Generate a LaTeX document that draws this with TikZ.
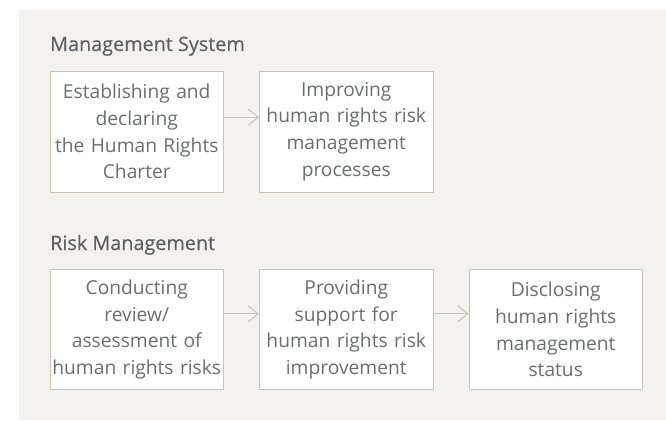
\documentclass[tikz,border=0pt]{standalone}
\usepackage{fontspec}
\setmainfont{Open Sans}
\newfontfamily\headfont{Open Sans}[FakeBold=0.35]
\usetikzlibrary{arrows.meta}
\definecolor{panelbg}{HTML}{F4F2EF}
\definecolor{boxline}{HTML}{CBC3B8}
\definecolor{boxtext}{HTML}{6C6E71}
\definecolor{headtext}{HTML}{5E6064}
\tikzset{
  x=1pt,y=-1pt,
  stepbox/.style={draw=boxline, line width=1pt, fill=white, minimum width=173.5pt, minimum height=121pt,
    inner sep=0pt, text width=173.5pt, align=center, text=boxtext,
    font=\fontsize{19.2pt}{26.7pt}\selectfont, anchor=north west},
  heading/.style={anchor=base west, inner sep=0pt, text=headtext, font=\headfont\fontsize{19.8pt}{22pt}\selectfont},
  arr/.style={draw=boxline, line width=1pt, -{Straight Barb[length=10pt,width=16pt,line width=1pt]}}
}
\begin{document}
\begin{tikzpicture}
\useasboundingbox (0,0) rectangle (666,420);
\fill[panelbg] (19,10) rectangle (666,420);
\node[heading] (h1) at (50,51) {Management System};
\node[stepbox] (a1) at (49.5,70.5) {Establishing and\\declaring\\the Human Rights\\Charter};
\node[stepbox] (a2) at (259,70.5) {Improving\\human rights risk\\management\\processes};
\draw[arr] ([yshift=14.3pt]a1.east) -- ([yshift=14.3pt]a2.west);
\node[heading] (h2) at (50,250) {Risk Management};
\node[stepbox, minimum height=120pt] (b1) at (49.5,269) {Conducting\\review/\\assessment of\\human rights risks};
\node[stepbox, minimum height=120pt] (b2) at (259,269) {Providing\\support for\\human rights risk\\improvement};
\node[stepbox, minimum height=120pt] (b3) at (468.5,269) {Disclosing\\human rights\\management\\status};
\draw[arr] ([yshift=15.7pt]b1.east) -- ([yshift=15.7pt]b2.west);
\draw[arr] ([yshift=15.7pt]b2.east) -- ([yshift=15.7pt]b3.west);
\end{tikzpicture}
\end{document}
